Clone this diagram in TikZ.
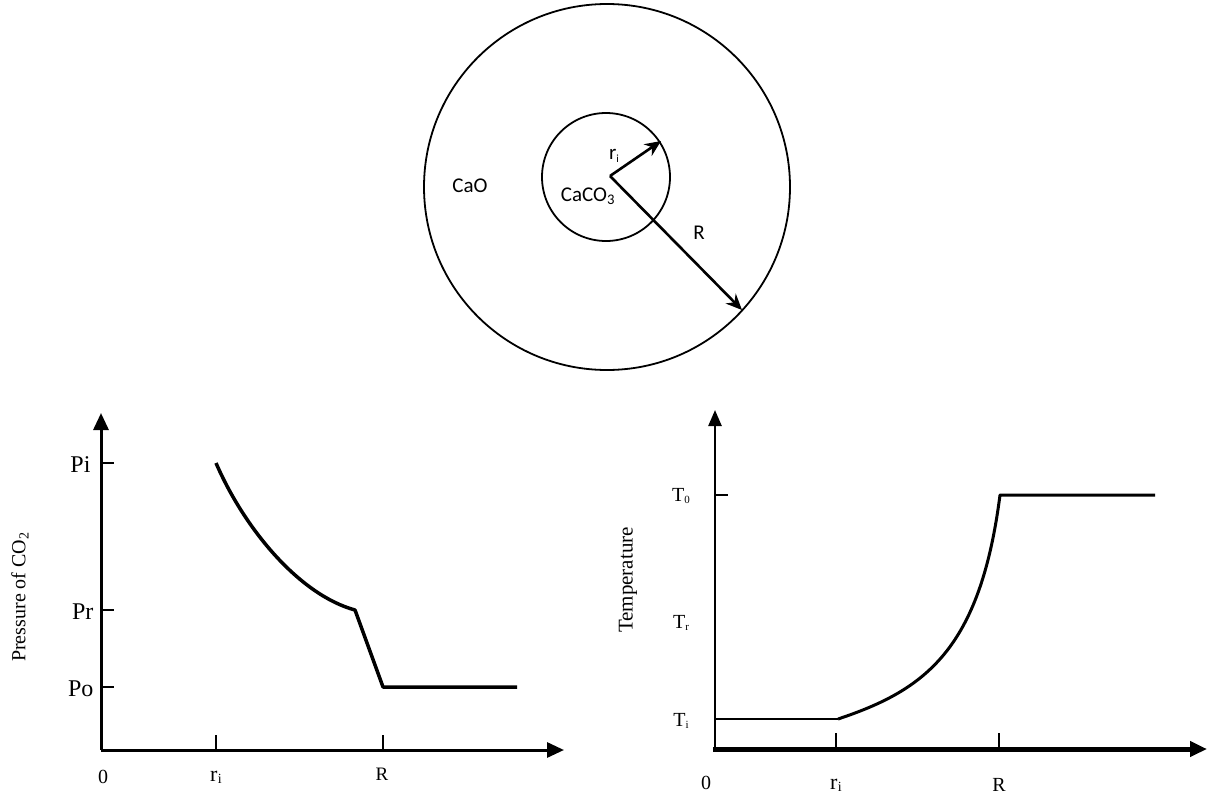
\documentclass[tikz,border=0pt]{standalone}
\usepackage{fontspec}
\setmainfont{Liberation Serif}
\newfontfamily\sanslbl{Carlito}
\usetikzlibrary{arrows.meta}
\newcommand{\smallsub}[1]{\raisebox{-0.12em}{\fontsize{11}{11}\selectfont #1}}
\newcommand{\tickri}{r\kern0.5pt\raisebox{-0.1em}{\fontsize{14}{14}\selectfont i}}
\begin{document}
\begin{tikzpicture}[x=1pt,y=-1pt,
  sanstxt/.style={font=\sanslbl\fontsize{21}{24}\selectfont},
  plab/.style={font=\fontsize{24}{27}\selectfont},
  serbig/.style={font=\fontsize{20}{24}\selectfont},
  sersmall/.style={font=\fontsize{19}{22}\selectfont},
  axisline/.style={line width=3pt},
  curveline/.style={line width=3.5pt,line join=round},
  tickline/.style={line width=1.5pt}]
\path[use as bounding box] (0,0) rectangle (1207,795);
% --- circles ---
\coordinate (bigc) at (607,187);
\coordinate (smallc) at (606,177);
\draw[line width=1.8pt] (bigc) circle[radius=183];
\draw[line width=1.8pt] (smallc) circle[radius=64];
\coordinate (o) at (610,176);
\coordinate (riend) at (661,141);
\coordinate (Rend) at (742,310);
\draw[line width=2.6pt,-{Stealth[length=16,width=14]}] (o) -- (riend);
\draw[line width=2.6pt,-{Stealth[length=16,width=14]}] (o) -- (Rend);
\node[sanstxt] (cao) at (470,186) {CaO};
\node[sanstxt] (caco) at (588,196) {CaCO\textsubscript{3}};
\node[sanstxt] (rilbl) at (614,156) {r\smallsub{i}};
\node[sanstxt] (Rlbl) at (699,233) {R};
% --- left plot ---
\coordinate (L0) at (101,750);
\coordinate (Ltop) at (101,413);
\coordinate (Lright) at (564,750);
\draw[axisline,-{Triangle[length=17,width=15]}] (L0) -- (Ltop);
\draw[axisline,-{Triangle[length=17,width=15]}] (L0) -- (Lright);
\coordinate (pit) at (101,463); \coordinate (pite) at (114,463);
\coordinate (prt) at (101,610); \coordinate (prte) at (114,610);
\coordinate (pot) at (101,687); \coordinate (pote) at (114,687);
\draw[tickline] (pit) -- (pite);
\draw[tickline] (prt) -- (prte);
\draw[tickline] (pot) -- (pote);
\coordinate (rit) at (216,750); \coordinate (rite) at (216,735);
\coordinate (Rt) at (383,750); \coordinate (Rte) at (383,735);
\draw[tickline] (rit) -- (rite);
\draw[tickline] (Rt) -- (Rte);
\node[plab,anchor=east] (pil) at (94,465) {Pi};
\node[plab,anchor=east] (prl) at (97,612) {Pr};
\node[plab,anchor=east] (pol) at (97,689) {Po};
\node[serbig] (zl) at (103,777) {0};
\node[font=\fontsize{22}{24}\selectfont] (ril) at (216,777) {\tickri};
\node[sersmall] (Rl) at (382,774) {R};
\node[serbig,rotate=90] (pco) at (20,597) {Pressure of CO\textsubscript{2}};
\coordinate (c1) at (216,463);
\coordinate (c2) at (355,610);
\coordinate (c3) at (383,687);
\coordinate (c4) at (517,687);
\draw[curveline] (c1) .. controls (245,530) and (300,595) .. (c2) -- (c3) -- (c4);
% --- right plot ---
\coordinate (R0) at (715,749);
\coordinate (Rtop) at (715,410);
\coordinate (Rright) at (1207,749);
\draw[line width=2.5pt,-{Triangle[length=16,width=13]}] (R0) -- (Rtop);
\draw[line width=5pt,-{Triangle[length=17,width=15]}] (713,749) -- (Rright);
\coordinate (t0t) at (715,495); \coordinate (t0te) at (728,495);
\draw[tickline] (t0t) -- (t0te);
\coordinate (rit2) at (836,749); \coordinate (rit2e) at (836,733);
\coordinate (Rt2) at (999,749); \coordinate (Rt2e) at (999,733);
\draw[line width=2.5pt] (rit2) -- (rit2e);
\draw[line width=2.5pt] (Rt2) -- (Rt2e);
\node[serbig] (t0l) at (681,496) {T\smallsub{0}};
\node[serbig] (trl) at (681,623) {T\smallsub{r}};
\node[serbig] (til) at (681,721) {T\smallsub{i}};
\node[serbig] (zr) at (706,783) {0};
\node[font=\fontsize{22}{24}\selectfont] (ri2l) at (836,785) {\tickri};
\node[font=\fontsize{20}{22}\selectfont] (R2l) at (999,785) {R};
\node[font=\fontsize{21}{24}\selectfont,rotate=90] (temp) at (628,580) {Temperature};
\coordinate (d0) at (715,719);
\coordinate (d1) at (838,719);
\coordinate (d2) at (1000,495);
\coordinate (d3) at (1155,495);
\draw[line width=2pt] (d0) -- (d1);
\draw[line width=3pt,line join=round] (d1) .. controls (925,690) and (980,650) .. (d2) -- (d3);
\end{tikzpicture}
\end{document}
